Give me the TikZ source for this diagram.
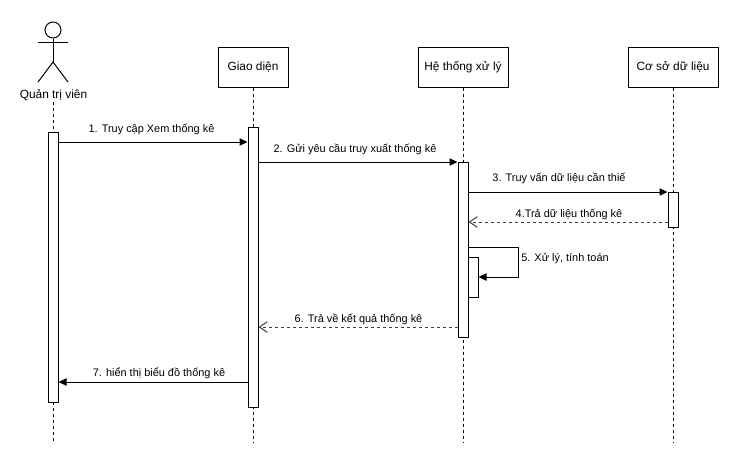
\documentclass[tikz,border=0pt]{standalone}
\usepackage{fontspec}
\setmainfont{Liberation Sans}
\usetikzlibrary{arrows.meta,calc}
\tikzset{
  x=0.75pt,y=-0.75pt,
  every path/.style={line width=0.75pt},
  headbox/.style={draw,fill=white,minimum height=30pt,inner sep=0pt,font=\fontsize{8.9}{10}\selectfont},
  actbox/.style={draw,fill=white,minimum width=7.5pt,inner sep=0pt},
  life/.style={dash pattern=on 2.25pt off 2.25pt},
  msg/.style={-{Triangle[length=6pt,width=5.5pt]}},
  ret/.style={dash pattern=on 2.25pt off 2.25pt,draw=black!75,-{Straight Barb[length=6pt,width=8pt,black!75]}},
  lbl/.style={font=\fontsize{8.2}{10}\selectfont,inner sep=0pt,anchor=base},
}
\newcommand{\actbar}[4]{\node[actbox,minimum height={(#4-#3)*0.75pt}] (#1) at (#2,{(#3+#4)/2}) {};}
\begin{document}
\begin{tikzpicture}
\useasboundingbox (0,0) rectangle (736,461);
\fill[white] (0,0) rectangle (736,461);
% heads
\node[headbox,minimum width=52.5pt] (gd) at (253,67) {Giao diện};
\node[headbox,minimum width=67.5pt] (ht) at (463,67) {Hệ thống xử lý};
\node[headbox,minimum width=67.5pt] (db) at (673,67) {Cơ sở dữ liệu};
% actor
\node[draw,circle,minimum size=12pt,inner sep=0pt] (head) at (53,30) {};
\coordinate (hip) at (53,62);
\coordinate (armL) at (38,42.5);
\coordinate (armR) at (68,42.5);
\coordinate (legL) at (38,82);
\coordinate (legR) at (68,82);
\draw (head.south) -- (hip);
\draw (armL) -- (armR);
\draw (legL) -- (hip) -- (legR);
\node[font=\fontsize{8.9}{10}\selectfont,inner sep=0pt] (qt) at (53.5,95.5) {Quản trị viên};
% lifeline ends
\coordinate (e1) at (53,442);
\coordinate (e2) at (253,442);
\coordinate (e3) at (463,442);
\coordinate (e4) at (673,442);
\coordinate (s1) at (53,102);
\draw[life] (s1) -- (e1);
\draw[life] (gd.south) -- (e2);
\draw[life] (ht.south) -- (e3);
\draw[life] (db.south) -- (e4);
% activations
\actbar{a1}{53}{132}{402}
\actbar{a2}{253}{127}{407}
\actbar{a3}{463}{162}{337}
\actbar{a4}{673}{192}{227}
\actbar{a5}{473}{257}{297}
% messages
\draw[msg] (a1.east |- 0,142) -- (a2.west |- 0,142);
\node[lbl] (m1) at (151.5,132) {1. Truy cập Xem thống kê};
\draw[msg] (a2.east |- 0,162) -- (a3.west |- 0,162);
\node[lbl] (m2) at (355,152) {2. Gửi yêu cầu truy xuất thống kê};
\draw[msg] (a3.east |- 0,192) -- (a4.west |- 0,192);
\node[lbl] (m3) at (559,181) {3. Truy vấn dữ liệu cần thiế};
\draw[ret] (a4.west |- 0,222) -- (a3.east |- 0,222);
\node[lbl] (m4) at (569,217) {4.Trả dữ liệu thống kê};
\coordinate (c1) at (518,247);
\coordinate (c2) at (518,277);
\draw[msg] (a3.east |- 0,247) -- (c1) -- (c2) -- (a5.east |- 0,277);
\node[lbl] (m5) at (565,261) {5. Xử lý, tính toán};
\draw[ret] (a3.west |- 0,327) -- (a2.east |- 0,327);
\node[lbl] (m6) at (358.5,322) {6. Trả về kết quả thống kê};
\draw[msg] (a2.west |- 0,382) -- (a1.east |- 0,382);
\node[lbl] (m7) at (159,376) {7. hiển thị biểu đồ thống kê};
\end{tikzpicture}
\end{document}
